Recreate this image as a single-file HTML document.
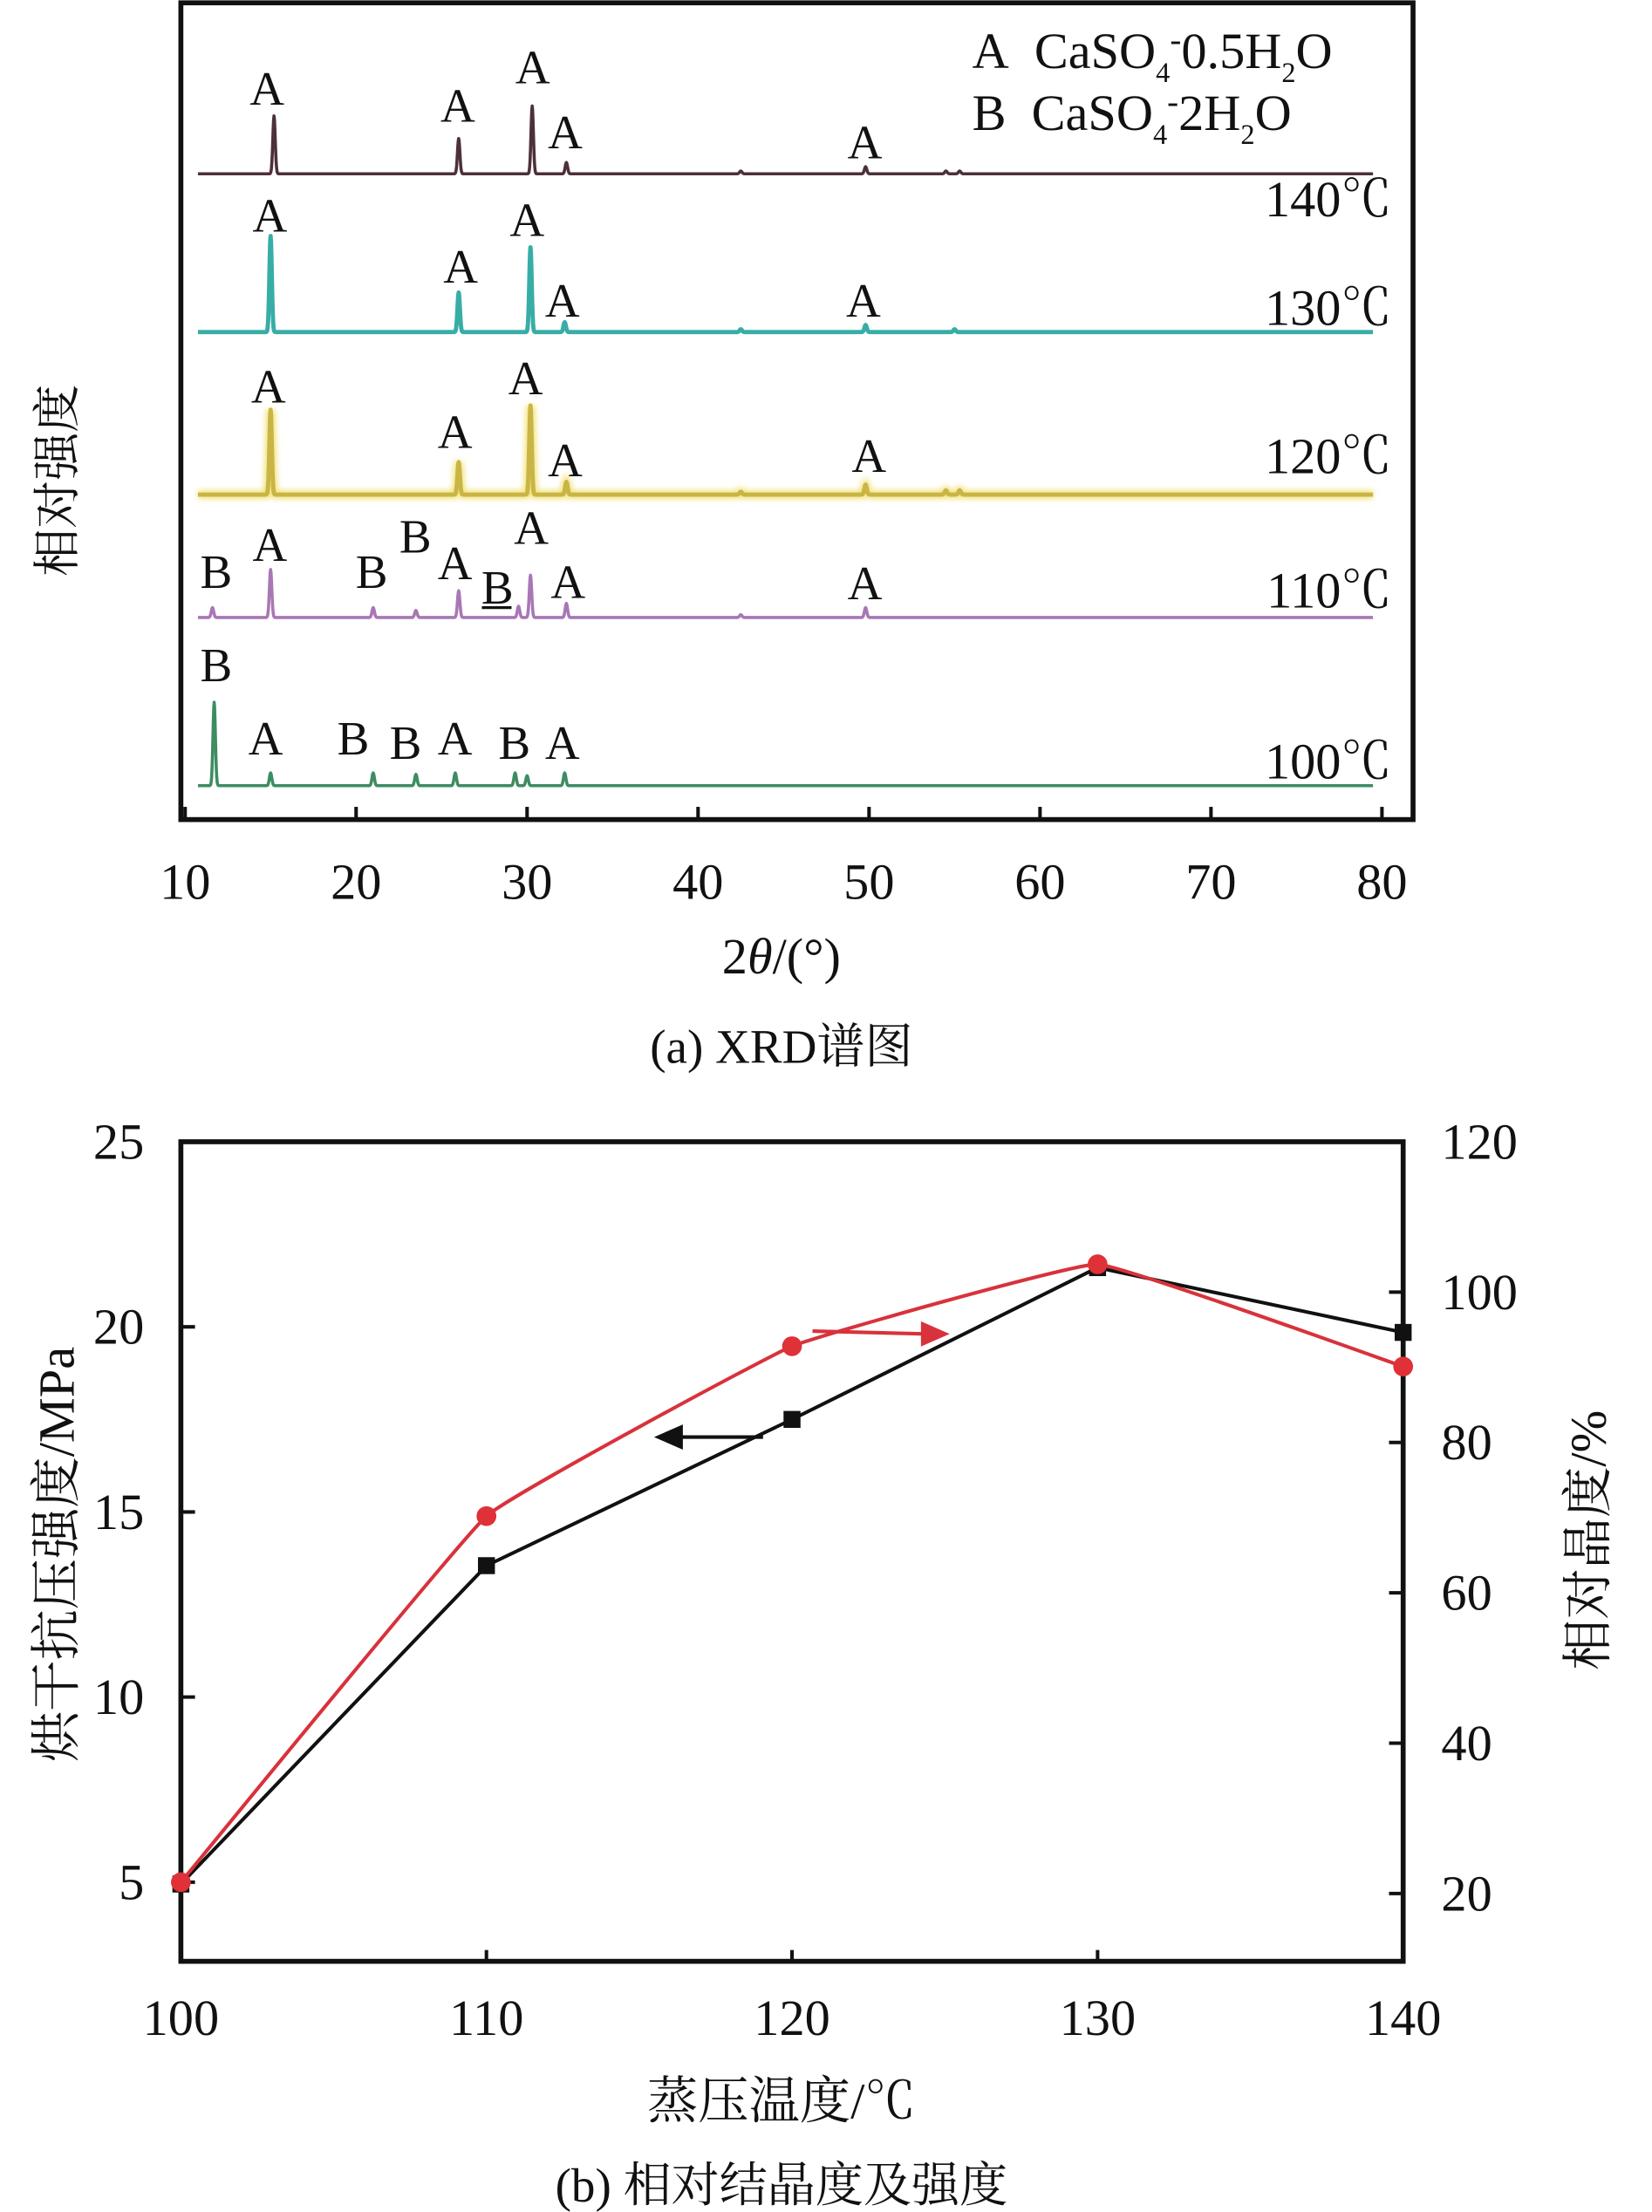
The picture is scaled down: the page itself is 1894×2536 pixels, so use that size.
<!DOCTYPE html>
<html><head><meta charset="utf-8"><style>
html,body{margin:0;padding:0;background:#fff;}
svg{display:block;}
text{font-family:"Liberation Serif","Noto Serif CJK SC",serif;fill:#111;}
</style></head><body>
<svg id="fig" width="1894" height="2536" viewBox="0 0 1169.1 1565.4" xmlns="http://www.w3.org/2000/svg">
<defs><filter id="glow" x="-5%" y="-50%" width="110%" height="200%"><feGaussianBlur stdDeviation="2"/></filter></defs>
<g id="xrd"></g>
<g id="bars"></g>
</svg>
<script>
// ===== XRD data =====
const xrdTemps = ["140℃","130℃","120℃","110℃","100℃"];
const xrdColors = ["#4d3038","#38ada6","#c9b545","#a877b5","#3d8c62"];
const xrdPeaks140 = [[15.2,41],[26,25],[30.3,48],[32.3,8],[42.5,2],[49.8,5],[54.5,2],[55.3,2]];
const xrdPeaks130 = [[15,68],[26,28],[30.2,60],[32.2,7],[42.5,2],[49.8,5],[55,2]];
const xrdPeaks120 = [[15,60],[26,23],[30.2,63],[32.3,9],[42.5,2],[49.8,7],[54.5,3],[55.3,3]];
const xrdPeaks110 = [[11.6,7],[15,34],[21,7],[23.5,5],[26,19],[29.5,8],[30.2,30],[32.3,10],[42.5,2],[49.8,7]];
const xrdPeaks100 = [[11.7,59],[15,9],[21,9],[23.5,8],[25.8,9],[29.3,9],[30,7],[32.2,9]];
const xrdOffsets = [123,235,350,437,556];
const xrdTicks = [10,20,30,40,50,60,70,80];
// ===== strength data =====
const tempCats = [100,110,120,130,140];
const strengthVals = [4.95,13.55,17.5,21.6,19.85];
const crystVals = [21.5,70.2,92.8,103.7,90.1];
const leftTicks = [5,10,15,20,25];
const rightTicks = [20,40,60,80,100,120];

const NS="http://www.w3.org/2000/svg";
function mk(parent,tag,attrs,txt){const e=document.createElementNS(NS,tag);for(const k in attrs)e.setAttribute(k,attrs[k]);if(txt!==undefined)e.textContent=txt;parent.appendChild(e);return e;}

const g1=document.getElementById('xrd');
const xs=t=>131+(t-10)*12.1;
const ys=(v,i)=>xrdOffsets[i]-v;
const allPeaks=[xrdPeaks140,xrdPeaks130,xrdPeaks120,xrdPeaks110,xrdPeaks100];
allPeaks.forEach((pk,i)=>{
  let d="";
  for(let t=10.75;t<=79.5;t+=0.025){
    let v=0;pk.forEach(p=>{const dt=(t-p[0])/0.07;v+=p[1]*Math.exp(-dt*dt/2);});
    d+=(d?"L":"M")+xs(t).toFixed(2)+" "+ys(v,i).toFixed(2);
  }
  if(i===2){const gl=mk(g1,'path',{d:d,fill:'none',stroke:'#f3e27a','stroke-width':6,filter:'url(#glow)'});
  
  }
  const p=mk(g1,'path',{d:d,fill:'none',stroke:xrdColors[i],'stroke-width':(i===1||i===2)?3:2.2,'stroke-linejoin':'round'});
  
  
  const tl=mk(g1,'text',{x:985,y:xrdOffsets[i]+(i===0?30:i===1?-5:i===2?-15:i===3?-7:-5),'font-size':36,'text-anchor':'end'},xrdTemps[i]);
  
  
});
mk(g1,'rect',{x:128,y:2,width:872,height:578,fill:'none',stroke:'#111','stroke-width':3.5,});
xrdTicks.forEach(t=>{
  const tk=mk(g1,'line',{x1:xs(t),x2:xs(t),y1:580,y2:571,stroke:'#111','stroke-width':2.5});
  
  
  const lb=mk(g1,'text',{x:xs(t),y:636,'font-size':36,'text-anchor':'middle'},String(t));
  
  
});
</script>
<script>
(function(){
const g1=document.getElementById('xrd');
const NS="http://www.w3.org/2000/svg";
const labels=[["A",189,62],["A",324,74],["A",377,47],["A",400,93],["A",612,100],
["A",191,152],["A",326,188],["A",373,155],["A",398,212],["A",611,212],
["A",190,273],["A",322,305],["A",372,267],["A",400,325],["A",615,322],
["B",153,404],["A",191,385],["B",263,404],["B",294,379],["A",322,398],["B",352,415],["A",376,373],["A",402,411],["A",612,412],
["B",153,470],["A",188,522],["B",250,522],["B",287,525],["A",322,522],["B",364,525],["A",398,525]];
labels.forEach(l=>{const t=document.createElementNS(NS,'text');t.setAttribute('x',l[1]);t.setAttribute('y',l[2]+12);t.setAttribute('font-size',34);t.setAttribute('text-anchor','middle');t.textContent=l[0];


g1.appendChild(t);});
})();
</script>
<svg style="position:absolute;left:0;top:0" width="1894" height="2536" viewBox="0 0 1169.1 1565.4" xmlns="http://www.w3.org/2000/svg">
<g font-family="Liberation Serif, Noto Serif CJK SC, serif" fill="#111">
<text x="688" y="48" font-size="36">A&#160;&#160;CaSO<tspan font-size="20" dy="10">4</tspan><tspan dy="-22" font-size="24">-</tspan><tspan dy="12">0.5H</tspan><tspan font-size="20" dy="10">2</tspan><tspan dy="-10">O</tspan></text>
<text x="688" y="92" font-size="36">B&#160;&#160;CaSO<tspan font-size="20" dy="10">4</tspan><tspan dy="-22" font-size="24">-</tspan><tspan dy="12">2H</tspan><tspan font-size="20" dy="10">2</tspan><tspan dy="-10">O</tspan></text>
<line x1="341" y1="430" x2="362" y2="430" stroke="#111" stroke-width="2"/>
<text transform="translate(52,340) rotate(-90)" font-size="34" text-anchor="middle">相对强度</text>
<text x="553" y="689" font-size="36" text-anchor="middle">2<tspan font-style="italic">θ</tspan>/(°)</text>
<text x="553" y="752" font-size="34" text-anchor="middle">(a) XRD谱图</text>
<text x="553" y="1499" font-size="36" text-anchor="middle">蒸压温度/℃</text>
<text x="553" y="1558" font-size="34" text-anchor="middle">(b) 相对结晶度及强度</text>
<text transform="translate(52,1100) rotate(-90)" font-size="36" text-anchor="middle">烘干抗压强度/MPa</text>
<text transform="translate(1136,1090) rotate(-90)" font-size="36" text-anchor="middle">相对晶度/%</text>
</g>
</svg>
<script>
(function(){
const NS="http://www.w3.org/2000/svg";
function mk(parent,tag,attrs,txt){const e=document.createElementNS(NS,tag);for(const k in attrs)e.setAttribute(k,attrs[k]);if(txt!==undefined)e.textContent=txt;parent.appendChild(e);return e;}
const g=document.getElementById('bars');
const X=t=>128+(t-100)*21.625;
const YL=v=>1332-(v-5)*26.2;
const YR=v=>1340-(v-20)*5.32;
mk(g,'rect',{x:128,y:808,width:865,height:580,fill:'none',stroke:'#111','stroke-width':3.5,});
leftTicks.forEach(v=>{
  const l=mk(g,'line',{x1:128,x2:138,y1:YL(v),y2:YL(v),stroke:'#111','stroke-width':2.5});
  
  
  const t=mk(g,'text',{x:102,y:YL(v)+12,'font-size':36,'text-anchor':'end'},String(v));
  
  
});
rightTicks.forEach(v=>{
  const l=mk(g,'line',{x1:983,x2:993,y1:YR(v),y2:YR(v),stroke:'#111','stroke-width':2.5});
  
  
  const t=mk(g,'text',{x:1020,y:YR(v)+12,'font-size':36},String(v));
  
  
});
tempCats.forEach(c=>{
  const l=mk(g,'line',{x1:X(c),x2:X(c),y1:1388,y2:1380,stroke:'#111','stroke-width':2.5});
  
  
  const t=mk(g,'text',{x:X(c),y:1440,'font-size':36,'text-anchor':'middle'},String(c));
  
  
});
const bp=tempCats.map((c,i)=>X(c)+","+YL(strengthVals[i])).join(" ");
const bl=mk(g,'polyline',{points:bp,fill:'none',stroke:'#111','stroke-width':2.5});


const pts=tempCats.map((c,i)=>[X(c),YR(crystVals[i])]);
let d="M"+pts[0][0]+" "+pts[0][1];
for(let i=0;i<pts.length-1;i++){
  const p0=pts[Math.max(i-1,0)],p1=pts[i],p2=pts[i+1],p3=pts[Math.min(i+2,pts.length-1)];
  const k=0.04;
  d+=" C"+(p1[0]+(p2[0]-p0[0])*k)+" "+(p1[1]+(p2[1]-p0[1])*k)+" "+(p2[0]-(p3[0]-p1[0])*k)+" "+(p2[1]-(p3[1]-p1[1])*k)+" "+p2[0]+" "+p2[1];
}
const rl=mk(g,'path',{d:d,fill:'none',stroke:'#d8323c','stroke-width':2.5});


tempCats.forEach((c,i)=>{
  const s=mk(g,'rect',{x:X(c)-6,y:YL(strengthVals[i])-6,width:12,height:12,fill:'#111'});
  
  
});
tempCats.forEach((c,i)=>{
  const m=mk(g,'circle',{cx:X(c),cy:YR(crystVals[i]),r:7,fill:'#e03038'});
  
  
});
const a1=mk(g,'path',{d:'M540 1017 L480 1017 M466 1017 L482 1010 L482 1024 Z',stroke:'#111','stroke-width':2.5,fill:'#111'});


const a2=mk(g,'path',{d:'M575 942 L655 944 M669 944 L653 937 L653 951 Z',stroke:'#d8323c','stroke-width':2.5,fill:'#d8323c'});


})();
</script>
</body></html>
